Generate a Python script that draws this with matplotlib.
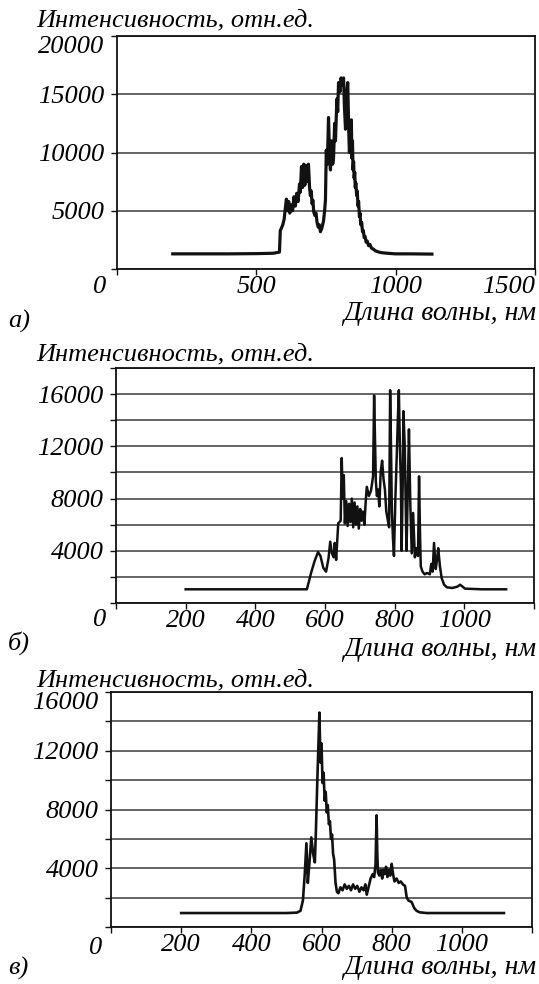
import matplotlib
matplotlib.use('Agg')
import matplotlib.pyplot as plt

plt.rcParams['font.family'] = ['Liberation Serif', 'DejaVu Serif']
plt.rcParams['font.style'] = 'italic'

# spectra: (wavelength nm, intensity)
spec_a = [(200, 1300), (300, 1300), (400, 1300), (500, 1320), (560, 1350), (583, 1450),
          (586, 3300), (590, 3500), (595, 3800), (600, 4300), (604, 5200), (608, 6000),
          (612, 5000), (616, 5800), (620, 4800), (625, 5500), (630, 5000), (635, 6200),
          (640, 5400), (645, 6500), (650, 5800), (655, 7300), (658, 6600), (662, 8800),
          (666, 7000), (670, 9000), (674, 7200), (678, 8900), (682, 7500), (687, 9000),
          (691, 7000), (694, 6300), (697, 6700), (700, 5600), (703, 5900), (706, 4900),
          (710, 4600), (714, 4800), (718, 4000), (722, 3600), (726, 3800), (730, 3200),
          (735, 3500), (741, 4100), (745, 5000), (748, 5900), (751, 10200), (755, 9000),
          (759, 13000), (763, 9500), (766, 8500), (770, 11000), (774, 9000), (777, 9500),
          (781, 12500), (784, 11000), (789, 14600), (792, 13500), (795, 16000), (800, 15200),
          (804, 16400), (808, 15800), (813, 16400), (816, 14000), (820, 12000), (824, 15000),
          (828, 16000), (831, 12500), (834, 10000), (838, 11500), (841, 12800), (843, 9500),
          (845, 11000), (847, 8500), (849, 9200), (851, 7800), (853, 8300), (855, 7000),
          (857, 7400), (860, 6300), (862, 6700), (865, 5400), (867, 5800), (870, 4500),
          (872, 4800), (875, 3800), (878, 4000), (881, 3200), (884, 3300), (887, 2700),
          (890, 2800), (894, 2300), (898, 2400), (903, 2000), (908, 2100), (913, 1800),
          (920, 1700), (928, 1550), (940, 1450), (950, 1400), (970, 1350), (1000, 1300),
          (1050, 1300), (1130, 1280)]

spec_b = [(200, 1050), (300, 1050), (400, 1050), (500, 1050), (548, 1050), (560, 2300),
          (570, 3200), (580, 3900), (587, 3600), (595, 2700), (603, 2400), (610, 3400),
          (615, 4700), (620, 3800), (625, 3500), (628, 4600), (632, 3300), (638, 6100),
          (645, 6300), (648, 11100), (651, 8000), (654, 9800), (657, 6100), (661, 7800),
          (665, 5900), (669, 7600), (673, 6200), (677, 8000), (681, 5800), (685, 7700),
          (689, 6000), (693, 7400), (697, 5700), (701, 7200), (705, 6300), (709, 7000),
          (713, 6000), (717, 7800), (720, 8900), (726, 8200), (732, 8600), (738, 9700),
          (741, 15900), (744, 12000), (746, 9300), (749, 8200), (752, 8700), (756, 7400),
          (760, 10100), (764, 10900), (768, 9500), (772, 8700), (776, 7000), (780, 6400),
          (784, 5800), (787, 16300), (790, 11000), (792, 7000), (795, 5000), (798, 3600),
          (802, 8000), (806, 11300), (809, 14000), (812, 16300), (815, 12000), (818, 9000),
          (820, 4000), (823, 9000), (825, 14700), (829, 12000), (832, 7000), (834, 4000),
          (838, 9000), (841, 13300), (845, 7500), (849, 3800), (853, 6900), (858, 3500),
          (862, 4200), (867, 3600), (870, 9700), (873, 5000), (875, 2800), (880, 2400),
          (886, 2200), (893, 2300), (901, 2200), (905, 3000), (909, 2400), (913, 4600),
          (918, 2600), (922, 3400), (925, 4200), (930, 2800), (935, 1900), (942, 1400),
          (950, 1200), (965, 1150), (980, 1250), (988, 1400), (1002, 1100), (1050, 1050),
          (1120, 1050)]

spec_c = [(200, 950), (300, 950), (400, 950), (500, 950), (530, 980), (540, 1100),
          (547, 1800), (552, 3500), (557, 5700), (561, 3000), (566, 4500), (571, 6100),
          (576, 5000), (581, 4400), (584, 6500), (586, 8200), (589, 10700), (592, 13000),
          (594, 14600), (597, 11200), (600, 12500), (603, 9800), (606, 10500), (609, 8600),
          (612, 9200), (615, 7800), (618, 8300), (621, 7000), (624, 7200), (627, 6000),
          (630, 6300), (633, 5000), (636, 4600), (640, 3000), (644, 2400), (648, 2300),
          (654, 2700), (660, 2500), (666, 2900), (672, 2600), (678, 2800), (684, 2500),
          (690, 2900), (696, 2600), (702, 2800), (708, 2400), (714, 2700), (720, 2500),
          (725, 2900), (729, 2200), (734, 2700), (740, 3300), (746, 3600), (750, 3400),
          (754, 4200), (757, 7600), (759, 5000), (761, 3700), (765, 3500), (769, 3900),
          (773, 3300), (776, 3900), (780, 3600), (784, 4100), (788, 3400), (792, 3900),
          (796, 3500), (800, 4300), (804, 3600), (808, 3100), (814, 3300), (820, 3000),
          (826, 3100), (832, 2900), (838, 2800), (843, 2000), (848, 1800), (857, 1700),
          (864, 1300), (871, 1100), (880, 1000), (900, 950), (1000, 950), (1120, 950)]

W, H = 539, 984
fig = plt.figure(figsize=(W / 100, H / 100), dpi=100)
fig.patch.set_facecolor('white')

fs = 19
ytitle = 'Интенсивность, отн.ед.'
xtitle = 'Длина волны, нм'


def px_axes(l, t, r, b):
    return fig.add_axes([l / W, 1 - b / H, (r - l) / W, (b - t) / H])


def style(ax, xmax, xstep, ymax, ystep, ylab_step, xlabels):
    ax.set_xlim(0, xmax)
    ax.set_ylim(0, ymax)
    xt = list(range(0, xmax + 1, xstep))
    ax.set_xticks(xt)
    ax.set_xticklabels([str(v) if v in xlabels else '' for v in xt])
    yt = list(range(0, ymax + 1, ystep))
    ax.set_yticks(yt)
    ax.set_yticklabels([str(v) if (v > 0 and v % ylab_step == 0) else '' for v in yt])
    ax.grid(axis='y', color='#3a3a3a', lw=1.1)
    ax.set_axisbelow(True)
    for s in ax.spines.values():
        s.set_color('#111111')
        s.set_linewidth(1.3)
    ax.tick_params(direction='out', length=4, width=1, color='#111111',
                   labelsize=fs)
    ax.tick_params(axis='x', pad=1)
    ax.tick_params(axis='y', pad=5)
    # label at the top edge sits a little below the spine, as in the original
    ylabs = ax.get_yticklabels()
    ylabs[-1].set_verticalalignment('top')
    return ax


def labels(y_title, y_zero, x_zero, y_xlab, y_letter, letter):
    fig.text(36 / W, 1 - y_title / H, ytitle, fontsize=fs, style='italic',
             ha='left', va='center')
    fig.text(x_zero / W, 1 - y_zero / H, '0', fontsize=fs, style='italic',
             ha='center', va='center')
    fig.text(536 / W, 1 - y_xlab / H, xtitle, fontsize=fs + 1, style='italic',
             ha='right', va='center')
    fig.text(8 / W, 1 - y_letter / H, letter, fontsize=fs, style='italic',
             ha='left', va='center')


wl_a, int_a = zip(*spec_a)
wl_b, int_b = zip(*spec_b)
wl_c, int_c = zip(*spec_c)

ax1 = px_axes(117, 36, 535, 269)
ax1.plot(wl_a, int_a, color='#111111', lw=2.3)
style(ax1, 1500, 500, 20000, 5000, 5000, [500, 1000, 1500])
ax1.get_xticklabels()[-1].set_horizontalalignment('right')
labels(20, 287, 100, 313, 321, 'а)')

ax2 = px_axes(116, 368, 534, 603)
ax2.plot(wl_b, int_b, color='#111111', lw=1.8)
style(ax2, 1200, 200, 18000, 2000, 4000, [200, 400, 600, 800, 1000])
labels(354, 620, 100, 650, 643, 'б)')

ax3 = px_axes(111, 692, 532, 927)
ax3.plot(wl_c, int_c, color='#111111', lw=1.9)
style(ax3, 1200, 200, 16000, 2000, 4000, [200, 400, 600, 800, 1000])
labels(680, 948, 96, 968, 968, 'в)')

fig.savefig('out.png', dpi=100)
